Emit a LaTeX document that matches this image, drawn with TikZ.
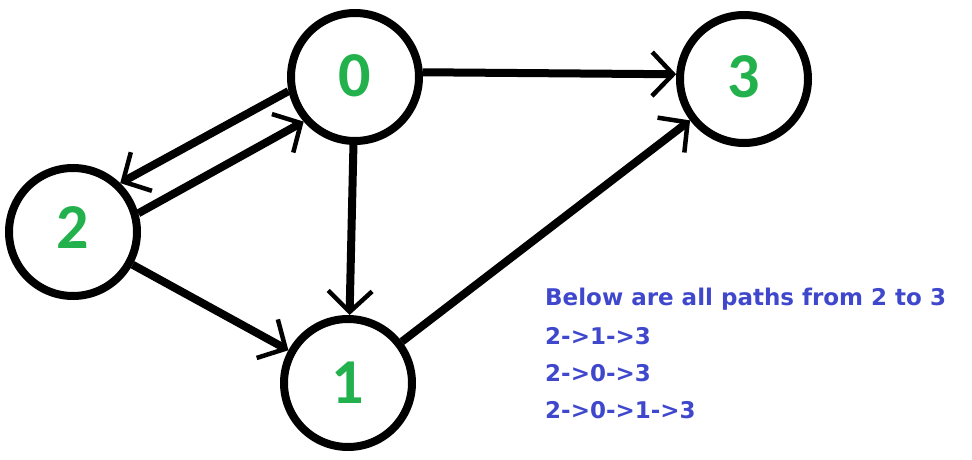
\documentclass[tikz,border=0pt]{standalone}
\usepackage{fontspec}
\setmainfont{Carlito}
\newfontfamily\notefont{DejaVu Sans}
\usetikzlibrary{arrows.meta}
\definecolor{nodegreen}{RGB}{34,177,76}
\definecolor{noteblue}{RGB}{63,72,204}
\begin{document}
\begin{tikzpicture}[x=1pt,y=-1pt,
  vertex/.style={circle,draw,line width=8pt,minimum size=128pt,inner sep=0pt,
    font=\fontsize{64}{64}\selectfont\bfseries,text=nodegreen},
  edge/.style={line width=8pt,
    -{Straight Barb[length=21pt,width=44pt,line width=4.5pt]}},
  note/.style={anchor=base west,text=noteblue,inner sep=0pt,
    font=\notefont\fontsize{23}{23}\selectfont\bfseries}]
\useasboundingbox (0,0) rectangle (972,460);

% vertices
\node[vertex] (n0) at (355,77)  {\raisebox{2pt}{0}};
\node[vertex] (n3) at (744,79)  {\raisebox{4pt}{3}};
\node[vertex] (n2) at (73,232)  {\raisebox{8pt}{2}};
\node[vertex] (n1) at (348,383) {1};

% directed edges
\draw[edge] (n0.4)   -- (n3.176);
\draw[edge] (n0)     -- (n1);
\draw[edge] (n1)     -- (n3);
\draw[edge] (n2)     -- (n1);
\draw[edge] (n0.192) -- (n2.46);
\draw[edge] (n2.16)  -- (n0.221);

% list of paths
\node[note] (p0) at (545,305) {Below are all paths from 2 to 3};
\node[note] (p1) at (545,344) {2->1->3};
\node[note] (p2) at (545,381) {2->0->3};
\node[note] (p3) at (545,418) {2->0->1->3};
\end{tikzpicture}
\end{document}
